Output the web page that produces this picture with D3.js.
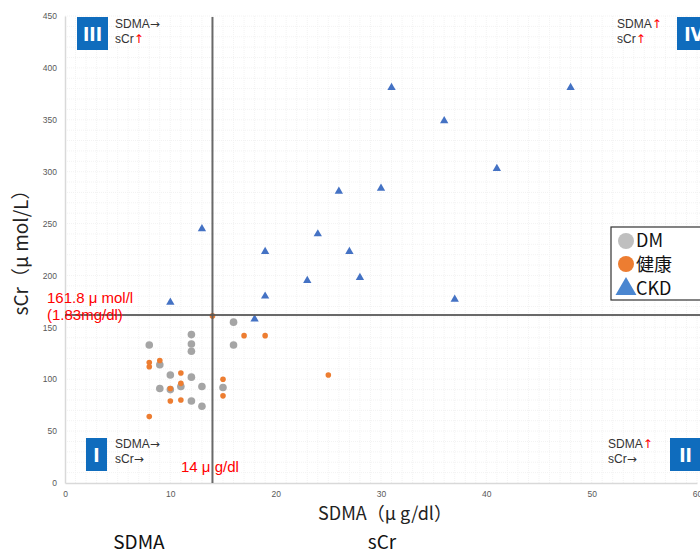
<!DOCTYPE html>
<html>
<head>
<meta charset="utf-8">
<script src="https://cdn.jsdelivr.net/npm/d3@7"></script>
<style>
  body { margin: 0; background: #fff; }
  svg { font-family: "Noto Sans CJK JP", "Noto Sans", sans-serif; }
</style>
</head>
<body>
<svg width="700" height="553"></svg>
<script>
'use strict';

// DM group (grey circles)
var dmSdma = [16, 12, 8, 12, 16, 12, 9, 10, 12, 9, 11, 13, 15, 12, 13, 10];
var dmScr  = [155, 143, 133, 134, 133, 127, 114, 104, 102, 91, 93, 93, 92, 79, 74, 90];

// 健康 group (orange)
var hSdma = [14, 17, 19, 8, 8, 9, 11, 11, 10, 15, 15, 10, 11, 8, 25];
var hScr  = [161, 142, 142, 116, 112, 118, 106, 96, 91, 100, 84, 79, 80, 64, 104];

// CKD group (blue triangles)
var cSdma = [31, 48, 36, 41, 26, 30, 13, 24, 19, 27, 23, 28, 19, 37, 10, 18];
var cScr  = [381, 381, 349, 303, 281, 284, 245, 240, 223, 223, 195, 198, 180, 177, 174, 158];

var xTicks = [0, 10, 20, 30, 40, 50, 60];
var yTicks = [0, 50, 100, 150, 200, 250, 300, 350, 400, 450];

var sdmaCut = 14, scrCut = 161.8;

var svg = d3.select('svg');

var x = d3.scaleLinear().domain([0, 60]).range([65, 697]);
var y = d3.scaleLinear().domain([0, 450]).range([483, 16]);

// faint grid
var grid = svg.append('g').attr('stroke', '#f3f3f3').attr('stroke-width', 1)
    .attr('stroke-dasharray', '1,1');
grid.selectAll('.gx').data(d3.range(1, 61)).enter().append('line')
    .attr('x1', function(d){ return x(d); }).attr('x2', function(d){ return x(d); })
    .attr('y1', y(450)).attr('y2', y(0));
grid.selectAll('.gy').data(d3.range(10, 451, 10)).enter().append('line')
    .attr('y1', function(d){ return y(d); }).attr('y2', function(d){ return y(d); })
    .attr('x1', x(0)).attr('x2', 700);

// axes
var yAxis = d3.axisLeft(y).tickValues(yTicks).tickSize(0).tickPadding(8);
var xAxis = d3.axisBottom(x).tickValues(xTicks).tickSize(0).tickPadding(8);

var gy = svg.append('g').attr('transform', 'translate(' + x(0) + ',0)').call(yAxis);
var gx = svg.append('g').attr('transform', 'translate(0,' + y(0) + ')').call(xAxis);
[gx, gy].forEach(function(g){
    g.select('.domain').attr('stroke', '#d9d9d9').attr('stroke-width', 1.5);
    g.selectAll('text').attr('fill', '#595959').style('font-size', '8.5px')
        .style('font-family', 'Liberation Sans, Arial, sans-serif');
});

// axis titles
svg.append('text').attr('x', 385).attr('y', 520).attr('text-anchor', 'middle')
    .style('font-size', '18px').attr('fill', '#222').text('SDMA（μ g/dl）');
svg.append('text').attr('transform', 'translate(28,248) rotate(-90)')
    .attr('text-anchor', 'middle').style('font-size', '19px').attr('fill', '#222')
    .text('sCr（μ mol/L）');

// bottom labels
svg.append('text').attr('x', 139).attr('y', 549).attr('text-anchor', 'middle')
    .style('font-size', '19px').attr('fill', '#111').text('SDMA');
svg.append('text').attr('x', 382).attr('y', 549).attr('text-anchor', 'middle')
    .style('font-size', '19px').attr('fill', '#111').text('sCr');

// points
var dm = dmSdma.map(function(d, i){ return {x: d, y: dmScr[i]}; });
var healthy = hSdma.map(function(d, i){ return {x: d, y: hScr[i]}; });
var ckd = cSdma.map(function(d, i){ return {x: d, y: cScr[i]}; });

svg.append('g').selectAll('circle').data(dm).enter().append('circle')
    .attr('cx', function(d){ return x(d.x); })
    .attr('cy', function(d){ return y(d.y); })
    .attr('r', 3.8).attr('fill', '#a5a5a5');

svg.append('g').selectAll('circle').data(healthy).enter().append('circle')
    .attr('cx', function(d){ return x(d.x); })
    .attr('cy', function(d){ return y(d.y); })
    .attr('r', 2.8).attr('fill', '#ed7d31');

var tri = d3.symbol().type(d3.symbolTriangle).size(30);
svg.append('g').selectAll('path').data(ckd).enter().append('path')
    .attr('d', tri)
    .attr('transform', function(d){ return 'translate(' + x(d.x) + ',' + y(d.y) + ')'; })
    .attr('fill', '#4472c4');

// cut-off lines (over the points)
svg.append('line').attr('x1', x(sdmaCut)).attr('x2', x(sdmaCut))
    .attr('y1', 17).attr('y2', y(0))
    .attr('stroke', '#595959').attr('stroke-width', 2).attr('stroke-opacity', 0.9);
svg.append('line').attr('x1', x(0)).attr('x2', 700)
    .attr('y1', y(scrCut)).attr('y2', y(scrCut))
    .attr('stroke', '#595959').attr('stroke-width', 2).attr('stroke-opacity', 0.9);

// red annotations
svg.append('text').attr('x', 47).attr('y', 303).attr('fill', '#ff0000')
    .style('font-size', '15px').style('font-family', 'Liberation Sans, Arial, sans-serif')
    .text('161.8 μ mol/l');
svg.append('text').attr('x', 47).attr('y', 320).attr('fill', '#ff0000')
    .style('font-size', '15px').style('font-family', 'Liberation Sans, Arial, sans-serif')
    .text('(1.83mg/dl)');
svg.append('text').attr('x', 181).attr('y', 472).attr('fill', '#ff0000')
    .style('font-size', '15px').style('font-family', 'Liberation Sans, Arial, sans-serif')
    .text('14 μ g/dl');

// quadrant labels
var quads = [
    {num: 'III', bx: 77, by: 17, bw: 31, tx: 115, ty: 28, a: '→', b: '↑'},
    {num: 'IV', bx: 677, by: 17, bw: 34, tx: 617, ty: 28, a: '↑', b: '↑'},
    {num: 'I', bx: 86, by: 438, bw: 21, tx: 115, ty: 448, a: '→', b: '→'},
    {num: 'II', bx: 670, by: 438, bw: 31, tx: 608, ty: 448, a: '↑', b: '→'}
];
var q = svg.append('g').selectAll('g').data(quads).enter().append('g');
q.append('rect').attr('x', function(d){ return d.bx; }).attr('y', function(d){ return d.by; })
    .attr('width', function(d){ return d.bw; }).attr('height', 33).attr('fill', '#0f6cbd');
q.append('text').attr('x', function(d){ return d.bx + d.bw / 2; })
    .attr('y', function(d){ return d.by + 24; }).attr('text-anchor', 'middle')
    .attr('fill', '#fff').style('font-size', '19px').style('font-weight', 'bold')
    .style('font-family', 'DejaVu Sans Condensed, sans-serif')
    .text(function(d){ return d.num; });
var l1 = q.append('text').attr('x', function(d){ return d.tx; })
    .attr('y', function(d){ return d.ty; }).style('font-size', '12px').attr('fill', '#333')
    .style('font-family', 'Liberation Sans, Arial, sans-serif');
l1.append('tspan').text('SDMA');
l1.append('tspan').style('font-family', 'DejaVu Sans, sans-serif')
    .attr('fill', function(d){ return d.a === '↑' ? '#ff0000' : '#333'; })
    .text(function(d){ return d.a; });
var l2 = q.append('text').attr('x', function(d){ return d.tx; })
    .attr('y', function(d){ return d.ty + 15; }).style('font-size', '12px').attr('fill', '#333')
    .style('font-family', 'Liberation Sans, Arial, sans-serif');
l2.append('tspan').text('sCr');
l2.append('tspan').style('font-family', 'DejaVu Sans, sans-serif')
    .attr('fill', function(d){ return d.b === '↑' ? '#ff0000' : '#333'; })
    .text(function(d){ return d.b; });

// legend
var legend = svg.append('g').attr('transform', 'translate(611,227)');
legend.append('rect').attr('width', 95).attr('height', 73)
    .attr('fill', '#fff').attr('stroke', '#333').attr('stroke-width', 1.2);
legend.append('circle').attr('cx', 15).attr('cy', 14).attr('r', 8).attr('fill', '#bfbfbf');
legend.append('circle').attr('cx', 15).attr('cy', 37).attr('r', 8).attr('fill', '#ed7d31');
legend.append('path').attr('d', d3.symbol().type(d3.symbolTriangle).size(190))
    .attr('transform', 'translate(15,62)').attr('fill', '#4a86d0');
['DM', '健康', 'CKD'].forEach(function(t, i){
    legend.append('text').attr('x', 25).attr('y', 20 + i * 24)
        .style('font-size', '18px').attr('fill', '#111').text(t);
});
</script>
</body>
</html>
